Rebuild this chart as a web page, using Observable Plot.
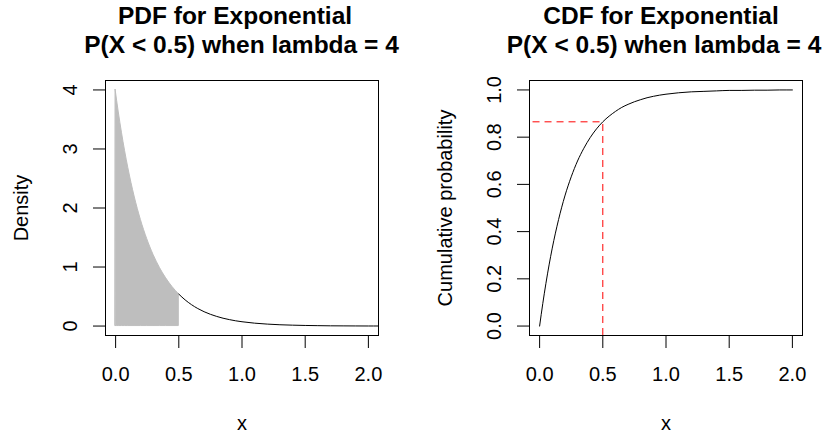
<!DOCTYPE html>
<html>
<head>
<meta charset="utf-8">
<script src="https://cdn.jsdelivr.net/npm/d3@7"></script>
<script src="https://cdn.jsdelivr.net/npm/@observablehq/plot@0.6"></script>
<style>
  html, body { margin: 0; padding: 0; background: #fff; }
  #wrap { display: flex; width: 832px; height: 434px; }
  svg { overflow: visible; }
</style>
</head>
<body>
<div id="wrap"></div>
<script>
// Values
const pdfXs = [0, 0.025, 0.05, 0.075, 0.10, 0.15, 0.20, 0.25, 0.30, 0.35, 0.40, 0.45, 0.50, 0.55, 0.60, 0.65, 0.70, 0.75, 0.80, 0.85, 0.90, 0.95, 1.00, 1.10, 1.20, 1.30, 1.40, 1.50, 1.60, 1.70, 1.80, 1.90, 2.00, 2.08];
const pdfValues = [4.000, 3.619, 3.275, 2.963, 2.681, 2.195, 1.797, 1.472, 1.205, 0.986, 0.808, 0.661, 0.541, 0.443, 0.363, 0.297, 0.243, 0.199, 0.163, 0.133, 0.109, 0.089, 0.073, 0.049, 0.033, 0.022, 0.015, 0.010, 0.007, 0.004, 0.003, 0.002, 0.001, 0.001];
const cdfXs = [0, 0.025, 0.05, 0.075, 0.10, 0.15, 0.20, 0.25, 0.30, 0.35, 0.40, 0.45, 0.50, 0.55, 0.60, 0.65, 0.70, 0.75, 0.80, 0.85, 0.90, 0.95, 1.00, 1.10, 1.20, 1.30, 1.40, 1.50, 1.60, 1.70, 1.80, 1.90, 2.00];
const cdfValues = [0.000, 0.095, 0.181, 0.259, 0.330, 0.451, 0.551, 0.632, 0.699, 0.753, 0.798, 0.835, 0.865, 0.889, 0.909, 0.926, 0.939, 0.950, 0.959, 0.967, 0.973, 0.978, 0.982, 0.988, 0.992, 0.994, 0.996, 0.998, 0.998, 0.999, 0.999, 1.000, 1.000];
const cutoff = 0.5;
const cutoffProb = 0.865;
const xTicks = [0, 0.5, 1.0, 1.5, 2.0];
const pdfTicks = [0, 1, 2, 3, 4];
const cdfTicks = [0, 0.2, 0.4, 0.6, 0.8, 1.0];
const titles = {
  pdf: ["PDF for Exponential", "P(X < 0.5) when lambda = 4"],
  cdf: ["CDF for Exponential", "P(X < 0.5) when lambda = 4"]
};
const xLabel = "x";
const pdfYLabel = "Density";
const cdfYLabel = "Cumulative probability";

const pdfData = pdfXs.map((x, i) => ({x, y: pdfValues[i]}));
const cdfData = cdfXs.map((x, i) => ({x, y: cdfValues[i]}));
const shade = pdfData.filter(d => d.x <= cutoff);
const tail = pdfData.filter(d => d.x >= cutoff);

const FONT = "'Liberation Sans', Arial, Helvetica, sans-serif";
const f1 = d3.format(".1f");

function commonMarks(title, titleDx, yLabel, yTicks, yFmt) {
  return [
    Plot.frame({stroke: "black", strokeWidth: 1}),
    Plot.axisX({ticks: xTicks, tickSize: 13, tickPadding: 18, tickFormat: f1, label: null, fontSize: 20, stroke: "black"}),
    Plot.axisY({ticks: yTicks, tickSize: 12, tickFormat: () => "", label: null, stroke: "black"}),
    Plot.text(yTicks, {y: d => d, text: d => yFmt(d), frameAnchor: "left", dx: -35, rotate: -90, textAnchor: "middle", lineAnchor: "middle", fontSize: 20}),
    Plot.text([xLabel], {frameAnchor: "bottom", dy: 88, textAnchor: "middle", lineAnchor: "middle", fontSize: 20}),
    Plot.text([yLabel], {frameAnchor: "left", dx: -84, rotate: -90, textAnchor: "middle", lineAnchor: "middle", fontSize: 20}),
    Plot.text([title[0]], {frameAnchor: "top", dx: titleDx[0], dy: -64, textAnchor: "middle", lineAnchor: "middle", fontSize: 24.5, fontWeight: "bold"}),
    Plot.text([title[1]], {frameAnchor: "top", dx: titleDx[1], dy: -35, textAnchor: "middle", lineAnchor: "middle", fontSize: 24.5, fontWeight: "bold"})
  ];
}

const pdfPlot = Plot.plot({
  width: 416, height: 434,
  marginLeft: 105, marginRight: 38, marginTop: 80, marginBottom: 99,
  style: {fontFamily: FONT, fontSize: "20px", color: "black", background: "white"},
  x: {domain: [-0.08, 2.08], label: null},
  y: {domain: [-0.16, 4.16], label: null},
  marks: [
    Plot.areaY(shade, {x: "x", y: "y", fill: "#bebebe", stroke: "#bebebe", strokeWidth: 1, curve: "monotone-x"}),
    Plot.line(tail, {x: "x", y: "y", stroke: "black", strokeWidth: 1, curve: "monotone-x", clip: true}),
    ...commonMarks(titles.pdf, [-7, -0.5], pdfYLabel, pdfTicks, d => String(d))
  ]
});

const cdfPlot = Plot.plot({
  width: 416, height: 434,
  marginLeft: 113, marginRight: 30, marginTop: 80, marginBottom: 99,
  style: {fontFamily: FONT, fontSize: "20px", color: "black", background: "white"},
  x: {domain: [-0.08, 2.08], label: null},
  y: {domain: [-0.04, 1.04], label: null},
  marks: [
    Plot.line(cdfData, {x: "x", y: "y", stroke: "black", strokeWidth: 1, curve: "monotone-x"}),
    Plot.ruleY([cutoffProb], {x1: -0.052, x2: cutoff, stroke: "#ff0000", strokeWidth: 1, strokeDasharray: "7,5"}),
    Plot.ruleX([cutoff], {y1: -0.04, y2: cutoffProb, stroke: "#ff0000", strokeWidth: 1, strokeDasharray: "7,5"}),
    ...commonMarks(titles.cdf, [-5, -2], cdfYLabel, cdfTicks, f1)
  ]
});

document.getElementById("wrap").append(pdfPlot, cdfPlot);
</script>
</body>
</html>
